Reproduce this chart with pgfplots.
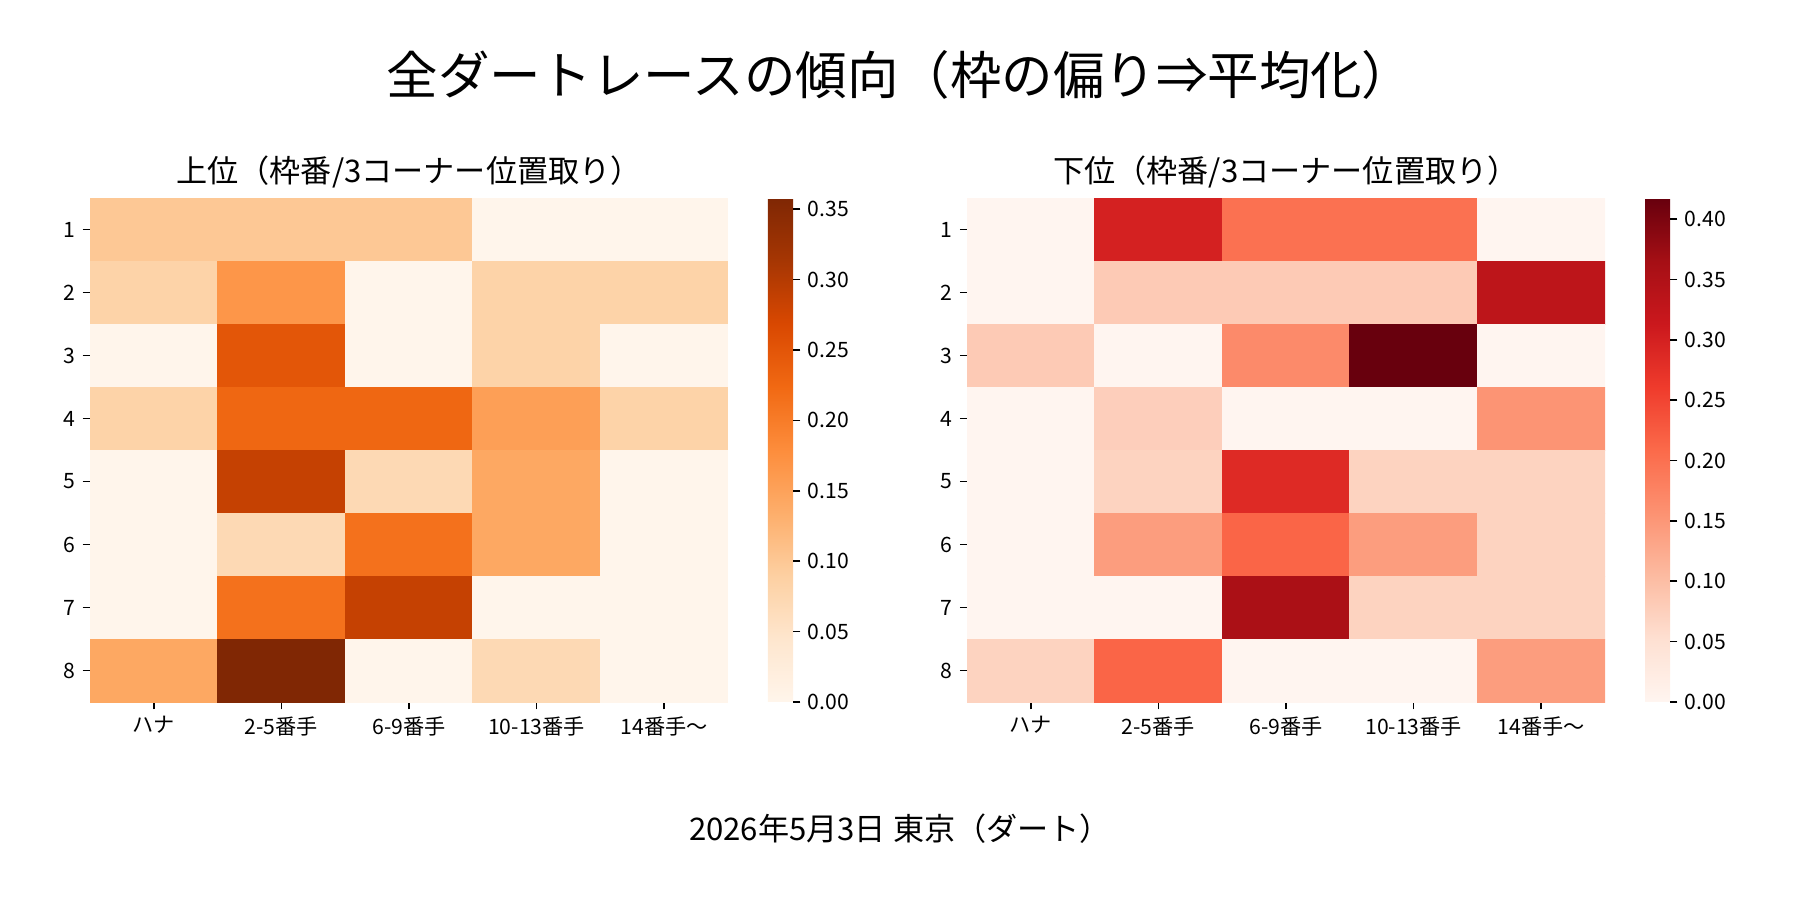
\documentclass[border=0pt]{standalone}
\usepackage{fontspec}
\setmainfont{Noto Sans CJK JP}
\usepackage{pgfplots}
\pgfplotsset{compat=1.18}
\usepackage{pgfplotstable}

\pgfplotstableread{
x y c
0 1 0.100
1 1 0.100
2 1 0.100
3 1 0
4 1 0
0 2 0.083
1 2 0.167
2 2 0
3 2 0.083
4 2 0.083
0 3 0
1 3 0.250
2 3 0
3 3 0.083
4 3 0
0 4 0.083
1 4 0.227
2 4 0.227
3 4 0.154
4 4 0.083
0 5 0
1 5 0.286
2 5 0.071
3 5 0.143
4 5 0
0 6 0
1 6 0.071
2 6 0.214
3 6 0.143
4 6 0
0 7 0
1 7 0.214
2 7 0.286
3 7 0
4 7 0
0 8 0.143
1 8 0.357
2 8 0
3 8 0.071
4 8 0
}\dataA

\pgfplotstableread{
x y c
0 1 0
1 1 0.300
2 1 0.200
3 1 0.200
4 1 0
0 2 0
1 2 0.083
2 2 0.083
3 2 0.083
4 2 0.333
0 3 0.083
1 3 0
2 3 0.167
3 3 0.417
4 3 0
0 4 0
1 4 0.077
2 4 0
3 4 0
4 4 0.154
0 5 0
1 5 0.071
2 5 0.286
3 5 0.071
4 5 0.071
0 6 0
1 6 0.143
2 6 0.214
3 6 0.143
4 6 0.071
0 7 0
1 7 0
2 7 0.357
3 7 0.071
4 7 0.071
0 8 0.071
1 8 0.214
2 8 0
3 8 0
4 8 0.143
}\dataB

\pgfplotsset{
  hm/.style={
    scale only axis, width=4.253in, height=3.36in, anchor=south west,
    xmin=-0.5, xmax=4.5, ymin=0.5, ymax=8.5, y dir=reverse,
    xtick={0,...,4}, xticklabels={ハナ,2-5番手,6-9番手,10-13番手,14番手〜},
    ytick={1,...,8},
    tick align=outside, xtick pos=bottom, ytick pos=left,
    major tick length=3.5pt,
    tick style={black, line width=0.8pt},
    axis line style={draw=none},
    tick label style={font=\fontsize{10.2}{12}\selectfont},
    /pgf/number format/assume math mode=true,
    point meta min=0,
    colorbar,
    colorbar style={
      at={(parent axis.north east)}, anchor=north west,
      xshift=0.267in, xshift=-0.3cm, width=0.167in,
      axis line style={draw=none},
      tick align=outside, ytick pos=right,
      major tick length=3.5pt,
      tick style={black, line width=0.8pt},
      yticklabel style={font=\fontsize{10.2}{12}\selectfont,
        /pgf/number format/.cd, fixed, fixed zerofill, precision=2, assume math mode=true},
    },
  }
}

\begin{document}
\begin{tikzpicture}
\path[use as bounding box] (0,0) rectangle (12in,6in);

\begin{axis}[hm, at={(0.6in,1.32in)},
  point meta max=0.3579,
  colormap={Oranges}{rgb255=(255,245,235) rgb255=(254,230,206) rgb255=(253,208,162) rgb255=(253,174,107) rgb255=(253,141,60) rgb255=(241,105,19) rgb255=(217,72,1) rgb255=(166,54,3) rgb255=(127,39,4)},
  colorbar style={ytick={0,0.05,0.10,0.15,0.20,0.25,0.30,0.35}},
]
\addplot[matrix plot*, mesh/cols=5, point meta=explicit] table[x=x, y=y, meta=c] {\dataA};
\end{axis}

\begin{axis}[hm, at={(6.447in,1.32in)},
  point meta max=0.4175,
  colormap={Reds}{rgb255=(255,245,240) rgb255=(254,224,210) rgb255=(252,187,161) rgb255=(252,146,114) rgb255=(251,106,74) rgb255=(239,59,44) rgb255=(203,24,29) rgb255=(165,15,21) rgb255=(103,0,13)},
  colorbar style={ytick={0,0.05,0.10,0.15,0.20,0.25,0.30,0.35,0.40}},
]
\addplot[matrix plot*, mesh/cols=5, point meta=explicit] table[x=x, y=y, meta=c] {\dataB};
\end{axis}

\node[font=\fontsize{24.8}{28}\selectfont] at (6in,5.5in) {全ダートレースの傾向（枠の偏り⇒平均化）};
\node[font=\fontsize{15}{17}\selectfont] at (2.727in,4.853in) {上位（枠番/3コーナー位置取り）};
\node[font=\fontsize{15}{17}\selectfont] at (8.573in,4.853in) {下位（枠番/3コーナー位置取り）};
\node[font=\fontsize{15}{17}\selectfont] at (6in,0.473in) {2026年5月3日 東京（ダート）};
\end{tikzpicture}
\end{document}
